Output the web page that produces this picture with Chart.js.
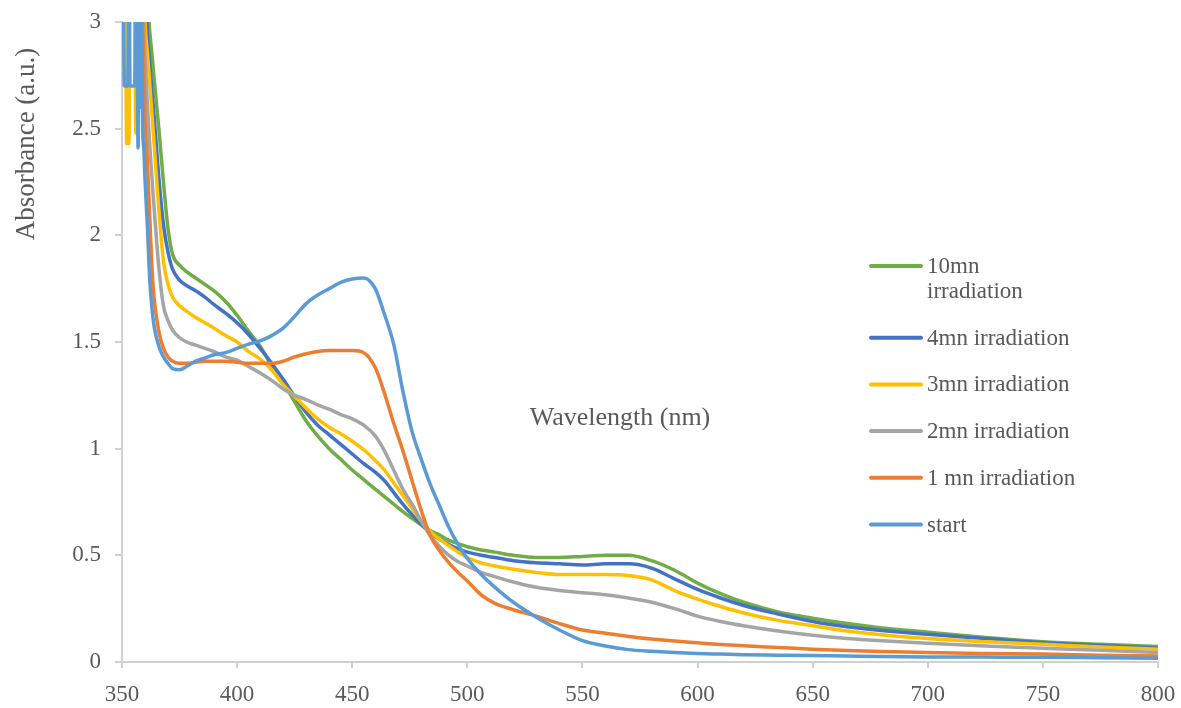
<!DOCTYPE html>
<html>
<head>
<meta charset="utf-8">
<script src="https://cdn.jsdelivr.net/npm/chart.js@4.4.1/dist/chart.umd.min.js"></script>
<style>
  html, body { margin: 0; padding: 0; background: #fff; }
  #wrap { position: relative; width: 1181px; height: 708px; }
</style>
</head>
<body>
<div id="wrap"><canvas id="chart"></canvas></div>
<script>
// wavelength grid (nm) shared by all series
const wavelengths = [
  350,350.5,351,351.5,352,352.5,353,353.5,354,354.5,355,355.5,356,356.5,357,357.5,358,358.5,359,359.5,360,
  361,362,363,364,366,368,370,372,375,378,
  382,386,390,395,400,405,410,415,420,425,
  430,435,440,445,450,455,460,464,468,472,
  476,480,484,488,492,496,500,506,512,520,
  530,540,550,560,570,580,590,600,610,620,
  635,650,665,680,700,725,750,775,800
];

const absStart = [
  3.2,3.2,2.7,2.7,2.7,2.7,3.2,2.7,2.7,2.7,2.7,2.7,3.2,2.9,2.41,3.2,2.6,3.1,2.5,2.4,2.26,
  2.05,1.8,1.66,1.57,1.48,1.43,1.40,1.375,1.37,1.385,
  1.41,1.425,1.44,1.45,1.47,1.49,1.505,1.53,1.565,1.62,
  1.68,1.72,1.75,1.78,1.795,1.80,1.75,1.63,1.49,1.27,
  1.08,0.95,0.83,0.73,0.63,0.55,0.485,0.41,0.35,0.28,
  0.21,0.15,0.10,0.075,0.058,0.05,0.044,0.04,0.037,0.034,
  0.032,0.03,0.028,0.026,0.024,0.023,0.022,0.02,0.018
];

const abs1mn = [
  3.2,3.2,3.2,3.2,3.2,3.2,3.2,3.2,3.2,3.2,3.2,3.2,3.2,3.2,3.2,3.2,3.2,3.2,3.0,2.75,2.55,
  2.35,2.1,1.85,1.7,1.55,1.47,1.43,1.41,1.40,1.40,
  1.405,1.41,1.41,1.41,1.405,1.40,1.40,1.40,1.41,1.43,
  1.445,1.455,1.46,1.46,1.46,1.45,1.38,1.26,1.12,0.99,
  0.85,0.71,0.59,0.52,0.465,0.42,0.38,0.315,0.275,0.245,
  0.215,0.18,0.15,0.135,0.12,0.108,0.098,0.09,0.082,0.076,
  0.068,0.06,0.054,0.049,0.044,0.04,0.037,0.032,0.028
];

const abs2mn = [
  3.2,3.2,3.2,3.2,3.2,3.2,3.2,3.2,3.2,3.2,3.2,3.2,3.2,3.2,3.2,3.2,3.2,3.2,3.2,3.0,2.85,
  2.62,2.43,2.27,2.12,1.85,1.67,1.6,1.555,1.52,1.50,
  1.485,1.47,1.455,1.43,1.415,1.385,1.355,1.32,1.28,1.25,
  1.23,1.205,1.185,1.16,1.14,1.11,1.06,0.99,0.90,0.81,
  0.74,0.66,0.59,0.54,0.50,0.47,0.45,0.42,0.40,0.375,
  0.35,0.335,0.325,0.315,0.30,0.28,0.25,0.215,0.19,0.17,
  0.145,0.125,0.11,0.10,0.088,0.075,0.065,0.055,0.045
];

const abs3mn = [
  3.2,3.2,3.2,3.2,2.43,2.43,2.43,3.2,3.2,3.2,3.2,3.2,2.48,3.2,3.2,3.2,3.2,3.2,3.2,3.2,3.0,
  2.86,2.72,2.57,2.42,2.12,1.88,1.77,1.71,1.67,1.645,
  1.615,1.59,1.565,1.53,1.50,1.455,1.42,1.37,1.30,1.245,
  1.19,1.14,1.10,1.07,1.035,0.995,0.945,0.90,0.84,0.78,
  0.72,0.66,0.61,0.575,0.545,0.515,0.49,0.465,0.45,0.435,
  0.42,0.41,0.41,0.41,0.405,0.385,0.335,0.295,0.26,0.23,
  0.195,0.17,0.145,0.128,0.11,0.095,0.083,0.07,0.06
];

const abs4mn = [
  3.2,3.2,3.2,3.2,3.2,3.2,3.2,3.2,3.2,3.2,3.2,3.2,3.2,3.2,3.2,3.2,3.2,3.2,3.2,3.2,3.2,
  2.95,2.82,2.68,2.55,2.27,2.05,1.92,1.84,1.79,1.765,
  1.74,1.71,1.675,1.635,1.59,1.535,1.47,1.40,1.325,1.245,
  1.17,1.11,1.065,1.02,0.975,0.93,0.89,0.85,0.795,0.74,
  0.69,0.645,0.605,0.575,0.55,0.53,0.515,0.50,0.49,0.475,
  0.465,0.46,0.455,0.46,0.46,0.44,0.39,0.34,0.30,0.265,
  0.225,0.19,0.165,0.148,0.13,0.11,0.09,0.077,0.065
];

const abs10mn = [
  3.2,3.2,3.2,3.2,3.2,3.2,3.2,3.2,3.2,3.2,3.2,3.2,3.2,3.2,3.2,3.2,3.2,3.2,3.2,3.2,3.2,
  3.1,2.96,2.85,2.73,2.5,2.25,2.03,1.91,1.86,1.83,
  1.80,1.77,1.74,1.69,1.625,1.55,1.48,1.39,1.31,1.22,
  1.13,1.06,1.00,0.95,0.90,0.855,0.81,0.775,0.74,0.705,
  0.673,0.643,0.615,0.595,0.57,0.555,0.54,0.525,0.515,0.50,
  0.49,0.49,0.495,0.50,0.50,0.475,0.43,0.37,0.32,0.28,
  0.235,0.205,0.18,0.16,0.14,0.115,0.095,0.083,0.073
];

const xTicks = [350, 800, 50];   // min, max, step
const yTicks = [0, 3, 0.5];

// legend order (top to bottom) as in the original
const seriesLabels = ['10mn irradiation', '4mn irradiation', '3mn irradiation', '2mn irradiation', '1 mn irradiation', 'start'];
const legendLines = [['10mn', 'irradiation'], ['4mn irradiation'], ['3mn irradiation'], ['2mn irradiation'], ['1 mn irradiation'], ['start']];
const seriesData = [abs10mn, abs4mn, abs3mn, abs2mn, abs1mn, absStart];
const seriesColors = ['#70AD47', '#4472C4', '#FFC000', '#A5A5A5', '#ED7D31', '#5B9BD5'];

const FONT = "'Liberation Serif', 'Times New Roman', serif";
const TEXT = '#595959';
const AXIS = '#d0d0d0';

const datasets = seriesLabels.map((lab, i) => ({
  label: lab,
  data: wavelengths.map((w, j) => ({x: w, y: seriesData[i][j]})),
  borderColor: seriesColors[i],
  backgroundColor: seriesColors[i],
  borderWidth: 3.5,
  pointRadius: 0,
  cubicInterpolationMode: 'monotone',
  clip: 0,
  order: seriesLabels.length - i   // later series painted on top, like Excel
}));

// legend + free floating axis titles
const extras = {
  id: 'extras',
  afterDraw(chart) {
    const ctx = chart.ctx;
    ctx.save();
    ctx.fillStyle = TEXT;
    ctx.textBaseline = 'middle';

    // legend
    ctx.font = '23px ' + FONT;
    let y = 266;
    legendLines.forEach((lines, i) => {
      ctx.strokeStyle = seriesColors[i];
      ctx.lineWidth = 4;
      ctx.lineCap = 'round';
      ctx.beginPath();
      ctx.moveTo(871, y);
      ctx.lineTo(921, y);
      ctx.stroke();
      lines.forEach((t, k) => {
        ctx.textAlign = 'left';
        ctx.fillText(t, 927, y + 1 + k * 25);
      });
      y += (lines.length - 1) * 25 + 46.7;
    });

    // x title sits inside the plot
    ctx.font = '26px ' + FONT;
    ctx.textAlign = 'center';
    ctx.fillText('Wavelength (nm)', 620, 418);

    // y title near the top of the axis
    ctx.translate(27, 144);
    ctx.rotate(-Math.PI / 2);
    ctx.font = '27px ' + FONT;
    ctx.fillText('Absorbance (a.u.)', 0, 0);
    ctx.restore();
  }
};

new Chart(document.getElementById('chart'), {
  type: 'line',
  data: { datasets },
  options: {
    responsive: true,
    maintainAspectRatio: false,
    animation: false,
    layout: { padding: { top: 22, right: 23, bottom: 0, left: 0 } },
    plugins: { legend: { display: false }, tooltip: { enabled: false } },
    scales: {
      x: {
        type: 'linear',
        min: xTicks[0], max: xTicks[1],
        afterFit(s) { s.height = 46; s.paddingLeft = 0; s.paddingRight = 0; },
        ticks: { stepSize: xTicks[2], color: TEXT, font: { family: FONT, size: 23 }, padding: 13,
                 callback: v => String(v) },
        grid: { drawOnChartArea: false, drawTicks: true, tickLength: 6, color: AXIS, lineWidth: 2 },
        border: { display: true, color: AXIS, width: 2 }
      },
      y: {
        min: yTicks[0], max: yTicks[1],
        afterFit(s) { s.width = 122; s.paddingTop = 0; s.paddingBottom = 0; },
        ticks: { stepSize: yTicks[2], color: TEXT, font: { family: FONT, size: 23 }, padding: 14,
                 callback: v => String(v) },
        grid: { drawOnChartArea: false, drawTicks: true, tickLength: 7, color: AXIS, lineWidth: 2 },
        border: { display: true, color: AXIS, width: 2 }
      }
    }
  },
  plugins: [extras]
});
</script>
</body>
</html>
